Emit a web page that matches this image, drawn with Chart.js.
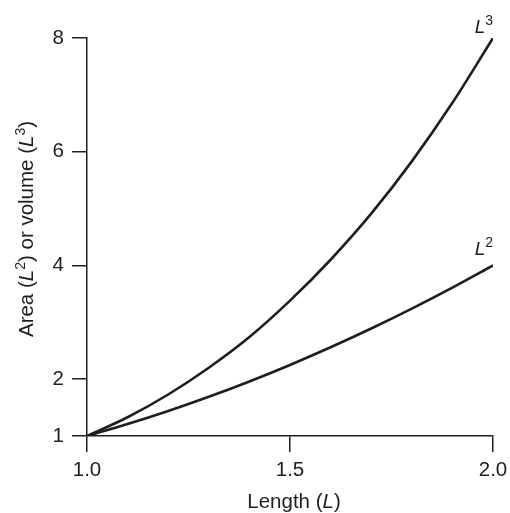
<!DOCTYPE html>
<html>
<head>
<meta charset="utf-8">
<script src="https://cdn.jsdelivr.net/npm/chart.js@4.4.1/dist/chart.umd.min.js"></script>
<style>
  html, body { margin: 0; padding: 0; background: #fff; }
  #wrap { width: 510px; height: 513px; }
</style>
</head>
<body>
<div id="wrap"><canvas id="myChart" width="510" height="513"></canvas></div>
<script>
//chart data
const lengths = [1.0, 1.1, 1.2, 1.3, 1.4, 1.5, 1.6, 1.7, 1.8, 1.9, 2.0];
const areaL2 = [1.0, 1.21, 1.44, 1.69, 1.96, 2.25, 2.56, 2.89, 3.24, 3.61, 4.0];
const volumeL3 = [1.0, 1.33, 1.73, 2.2, 2.74, 3.38, 4.1, 4.91, 5.83, 6.86, 8.0];
const yTickValues = [1, 2, 4, 6, 8];
const xTickValues = [1.0, 1.5, 2.0];

const ink = '#1e1e1e';
const fontFamily = '"Liberation Sans", Arial, sans-serif';

//draw a piece of text made of runs (italic / superscript parts)
function drawRuns(ctx, runs, x, y, align, size, supSize) {
    const fontOf = r => (r.italic ? 'italic ' : '') + (r.sup ? supSize : size) + 'px ' + fontFamily;
    let total = 0;
    runs.forEach(r => {
        ctx.font = fontOf(r);
        r.w = ctx.measureText(r.t).width;
        total += r.w;
    });
    let cx = align === 'center' ? x - total / 2 : (align === 'right' ? x - total : x);
    runs.forEach(r => {
        ctx.font = fontOf(r);
        ctx.fillText(r.t, cx, r.sup ? y - 8 : y);
        cx += r.w;
    });
}

//titles and curve labels
const labelPlugin = {
    id: 'labels',
    afterDraw(chart) {
        const ctx = chart.ctx;
        const xs = chart.scales.x;
        const ys = chart.scales.y;
        ctx.save();
        ctx.fillStyle = ink;
        ctx.textBaseline = 'alphabetic';
        ctx.textAlign = 'left';

        drawRuns(ctx, [{t: 'Length ('}, {t: 'L', italic: true}, {t: ')'}],
            (xs.left + xs.right) / 2 + 4, 508, 'center', 20.5, 14);

        ctx.save();
        ctx.translate(33, 229);
        ctx.rotate(-Math.PI / 2);
        drawRuns(ctx, [{t: 'Area ('}, {t: 'L', italic: true}, {t: '2', sup: true},
            {t: ') or volume ('}, {t: 'L', italic: true}, {t: '3', sup: true}, {t: ')'}], 0, 0, 'center', 20.5, 14);
        ctx.restore();

        const xEnd = xs.getPixelForValue(lengths[lengths.length - 1]);
        drawRuns(ctx, [{t: 'L', italic: true}, {t: '3', sup: true}],
            xEnd, ys.getPixelForValue(volumeL3[volumeL3.length - 1]) - 5, 'right', 19, 14);
        drawRuns(ctx, [{t: 'L', italic: true}, {t: '2', sup: true}],
            xEnd, ys.getPixelForValue(areaL2[areaL2.length - 1]) - 10, 'right', 19, 14);
        ctx.restore();
    }
};

const ctx = document.getElementById('myChart').getContext('2d');
const myChart = new Chart(ctx, {
    type: 'line',
    data: {
        datasets: [{
            label: 'L3',
            data: lengths.map((l, i) => ({x: l, y: volumeL3[i]})),
            borderColor: ink,
            borderWidth: 2.6,
            pointRadius: 0,
            cubicInterpolationMode: 'monotone'
        }, {
            label: 'L2',
            data: lengths.map((l, i) => ({x: l, y: areaL2[i]})),
            borderColor: ink,
            borderWidth: 2.6,
            pointRadius: 0,
            cubicInterpolationMode: 'monotone'
        }]
    },
    options: {
        responsive: false,
        animation: false,
        layout: { padding: { top: 38, right: 17, left: 0, bottom: 0 } },
        plugins: { legend: { display: false }, tooltip: { enabled: false } },
        scales: {
            x: {
                type: 'linear',
                min: 1,
                max: 2,
                afterBuildTicks: s => { s.ticks = xTickValues.map(v => ({value: v})); },
                afterFit: s => { s.height = 77; s.paddingLeft = 0; s.paddingRight = 0; },
                border: { color: ink, width: 1.5 },
                grid: { drawOnChartArea: false, drawTicks: true, tickLength: 16, color: ink, lineWidth: 1.5 },
                ticks: {
                    color: ink,
                    padding: 6,
                    maxRotation: 0,
                    font: { family: fontFamily, size: 20.5 },
                    callback: v => Number(v).toFixed(1)
                }
            },
            y: {
                min: 1,
                max: 8,
                afterBuildTicks: s => { s.ticks = yTickValues.map(v => ({value: v})); },
                afterFit: s => { s.width = 87; s.paddingTop = 0; s.paddingBottom = 0; },
                border: { color: ink, width: 1.5 },
                grid: { drawOnChartArea: false, drawTicks: true, tickLength: 15, color: ink, lineWidth: 1.5 },
                ticks: {
                    color: ink,
                    padding: 8,
                    font: { family: fontFamily, size: 20.5 }
                }
            }
        }
    },
    plugins: [labelPlugin]
});
</script>
</body>
</html>
